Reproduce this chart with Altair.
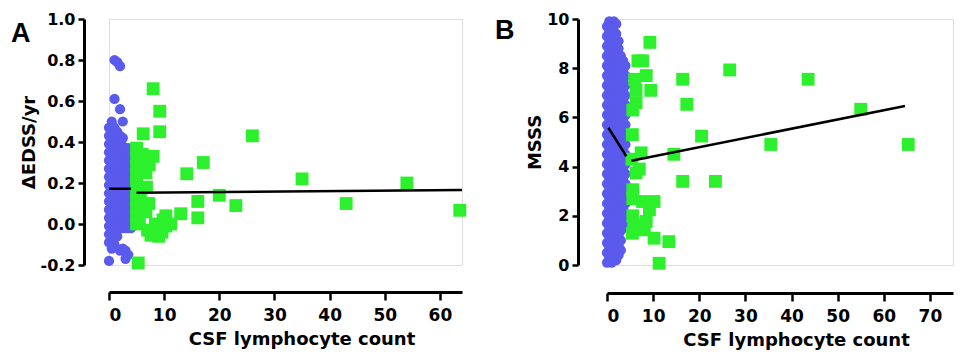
import altair as alt
import pandas as pd

# ---------------- Panel A data ----------------
a_blue_cols = {
    0.0: [-0.18, -0.09, -0.05, -0.01, 0.03, 0.07, 0.11, 0.15, 0.19, 0.23, 0.27, 0.31, 0.35, 0.39, 0.43, 0.47],
    0.5: [-0.12, -0.07, -0.03, 0.01, 0.05, 0.09, 0.13, 0.17, 0.21, 0.25, 0.29, 0.33, 0.37, 0.41, 0.45, 0.50],
    1.0: [-0.10, -0.05, -0.01, 0.03, 0.07, 0.11, 0.15, 0.19, 0.23, 0.27, 0.31, 0.35, 0.39, 0.43, 0.47, 0.61, 0.80],
    1.5: [-0.06, -0.03, 0.01, 0.05, 0.09, 0.13, 0.17, 0.21, 0.25, 0.29, 0.33, 0.37, 0.41, 0.45, 0.79],
    2.0: [-0.13, -0.02, 0.03, 0.07, 0.11, 0.15, 0.19, 0.23, 0.27, 0.31, 0.35, 0.39, 0.43, 0.56, 0.77],
    2.5: [-0.12, -0.02, 0.02, 0.06, 0.10, 0.14, 0.18, 0.22, 0.26, 0.30, 0.34, 0.38, 0.42, 0.50],
    3.0: [-0.17, -0.13, -0.02, 0.01, 0.05, 0.09, 0.13, 0.17, 0.21, 0.25, 0.29, 0.33, 0.37],
    3.5: [-0.15, -0.02, 0.02, 0.06, 0.10, 0.14, 0.18, 0.22, 0.26, 0.30, 0.34, 0.37],
    4.0: [-0.02, 0.01, 0.05, 0.09, 0.13, 0.17, 0.21, 0.25, 0.29, 0.33, 0.36],
    4.5: [0.00, 0.04, 0.08, 0.12, 0.16, 0.20, 0.24, 0.28, 0.32, 0.35],
}
a_green_x = [5.0, 5.0, 5.0, 5.0, 5.0, 5.0, 5.0, 5.0, 5.0, 5.0,
             5.3, 5.5, 5.7, 6.0, 6.2, 6.7, 6.7, 6.8, 7.3, 7.6,
             8.0, 8.0, 8.4, 9.0, 9.2, 9.2, 9.6, 10.3, 10.3, 11.2,
             13.0, 14.1, 16.1, 16.1, 17.1, 20.0, 23.0, 26.0, 35.0, 43.0,
             54.0, 63.6, 6.2, 7.2, 8.6, 9.8, 7.0, 6.0]
a_green_y = [0.00, 0.04, 0.08, 0.12, 0.16, 0.20, 0.24, 0.28, 0.32, 0.37,
             -0.19, 0.01, 0.12, 0.34, 0.44, 0.06, 0.25, 0.18, 0.29, -0.055,
             0.66, 0.33, 0.00, -0.06, 0.55, 0.45, -0.04, 0.04, -0.01, 0.00,
             0.05, 0.245, 0.11, 0.03, 0.30, 0.14, 0.09, 0.43, 0.22, 0.10,
             0.20, 0.067, 0.10, 0.10, -0.03, 0.02, -0.03, 0.28]
a_line_x = [0.0, 4.0, 5.0, 64.0]
a_line_y = [0.172, 0.172, 0.153, 0.166]
a_line_g = ["low", "low", "high", "high"]

# ---------------- Panel B data ----------------
b_blue_cols = {
    0.0: [0.1, 0.5, 0.9, 1.3, 1.7, 2.1, 2.5, 2.9, 3.3, 3.7, 4.1, 4.5, 4.9, 5.3, 5.7, 6.1, 6.5, 6.9, 7.3, 7.7, 8.1, 8.5, 8.9, 9.3, 9.7],
    0.5: [0.3, 0.7, 1.1, 1.5, 1.9, 2.3, 2.7, 3.1, 3.5, 3.9, 4.3, 4.7, 5.1, 5.5, 5.9, 6.3, 6.7, 7.1, 7.5, 7.9, 8.3, 8.7, 9.1, 9.5, 9.9],
    1.0: [0.1, 0.5, 0.9, 1.3, 1.7, 2.1, 2.5, 2.9, 3.3, 3.7, 4.1, 4.5, 4.9, 5.3, 5.7, 6.1, 6.5, 6.9, 7.3, 7.7, 8.1, 8.5, 8.9, 9.3, 9.7],
    1.5: [0.3, 0.7, 1.1, 1.5, 1.9, 2.3, 2.7, 3.1, 3.5, 3.9, 4.3, 4.7, 5.1, 5.5, 5.9, 6.3, 6.7, 7.1, 7.5, 7.9, 8.3, 8.7, 9.1, 9.5, 9.9],
    2.0: [0.2, 0.6, 1.0, 1.4, 1.8, 2.2, 2.6, 3.0, 3.4, 3.8, 4.2, 4.6, 5.0, 5.4, 5.8, 6.2, 6.6, 7.0, 7.4, 7.8, 8.2, 8.6, 9.0, 9.4, 9.8],
    2.5: [0.4, 0.8, 1.2, 1.6, 2.0, 2.4, 2.8, 3.2, 3.6, 4.0, 4.4, 4.8, 5.2, 5.6, 6.0, 6.4, 6.8, 7.2, 7.6, 8.0, 8.4, 8.8, 9.1],
    3.0: [0.6, 1.0, 1.4, 1.8, 2.2, 2.6, 3.0, 3.4, 3.8, 4.2, 4.6, 5.0, 5.4, 5.8, 6.2, 6.6, 7.0, 7.4, 7.8, 8.2, 8.5],
    3.5: [1.5, 1.9, 2.3, 2.7, 3.1, 3.5, 3.9, 4.3, 4.7, 5.1, 5.5, 5.9, 6.3, 6.7, 7.1, 7.5, 7.9, 8.3],
    4.0: [1.7, 2.1, 2.5, 2.9, 3.3, 3.7, 4.1, 4.5, 4.9, 5.3, 5.7, 6.1, 6.5, 6.9, 7.3, 7.7, 8.1],
}
b_green_x = [9.3, 6.7, 7.7, 8.5, 9.5, 6.0, 6.3, 6.3, 5.6, 16.4,
             26.6, 17.3, 43.6, 55.0, 20.5, 35.5, 65.3, 14.5, 7.4, 6.3,
             16.4, 23.5, 5.6, 7.7, 10.2, 9.2, 8.5, 8.1, 5.5, 10.2,
             13.4, 11.3, 5.6, 5.6, 5.4, 5.5, 7.0, 5.8]
b_green_y = [9.05, 8.3, 8.3, 7.7, 7.1, 7.55, 7.1, 6.6, 6.3, 7.55,
             7.93, 6.53, 7.55, 6.33, 5.24, 4.9, 4.9, 4.5, 4.56, 3.74,
             3.4, 3.4, 3.06, 2.58, 2.58, 2.24, 1.77, 1.43, 1.29, 1.09,
             0.95, 0.07, 2.7, 2.0, 4.3, 5.3, 3.9, 1.6]
b_line_x = [0.3, 4.2, 5.3, 64.6]
b_line_y = [5.58, 4.42, 4.24, 6.46]
b_line_g = ["low", "low", "high", "high"]

BLUE = "#5A5AEC"
GREEN = "#2CF02C"
FONT = "DejaVu Sans"


def cols_to_df(cols):
    xs, ys = [], []
    for x, yl in cols.items():
        for y in yl:
            xs.append(x)
            ys.append(y)
    return pd.DataFrame({"x": xs, "y": ys})


def panel(blue, gx, gy, lx, ly, lg, xdom, xvals, ydom, yvals, ytitle,
          letter, letter_x, letter_y, w, h, xoff, yoff, yfmt):
    xsc = alt.Scale(domain=xdom, nice=False, zero=False)
    ysc = alt.Scale(domain=ydom, nice=False, zero=False)
    xax = alt.Axis(values=xvals, title="CSF lymphocyte count", offset=xoff,
                   labelExpr="datum.value % 10 == 0 ? datum.label : ''",
                   tickSize={"condition": {"test": "datum.value % 10 === 0", "value": 8}, "value": 5},
                   labelPadding=7, titlePadding=7, labelFontSize=17,
                   titleX=w / 2 + 16)
    yax = alt.Axis(values=yvals, title=ytitle, offset=yoff, tickSize=6,
                   labelExpr="replace(format(datum.value, '" + yfmt + "'), '\u2212', '-')",
                   labelPadding=3, titlePadding=2, labelFontSize=16)
    base_x = alt.X("x:Q", scale=xsc, axis=xax)
    base_y = alt.Y("y:Q", scale=ysc, axis=yax)
    pts_b = alt.Chart(blue).mark_point(shape="circle", filled=True, opacity=1,
                                       size=105, color=BLUE, clip=False).encode(x=base_x, y=base_y)
    gdf = pd.DataFrame({"x": gx, "y": gy})
    pts_g = alt.Chart(gdf).mark_point(shape="square", filled=True, opacity=1,
                                      size=165, color=GREEN, clip=False).encode(x="x:Q", y="y:Q")
    ldf = pd.DataFrame({"x": lx, "y": ly, "g": lg})
    lines = alt.Chart(ldf).mark_line(color="black", strokeWidth=2.5).encode(
        x="x:Q", y="y:Q", detail="g:N")
    lab = alt.Chart(pd.DataFrame({"t": [letter]})).mark_text(
        font="Liberation Sans", fontWeight="bold", fontSize=27, align="left",
        baseline="alphabetic", color="black").encode(
        text="t:N", x=alt.value(letter_x), y=alt.value(letter_y))
    return alt.layer(pts_b, pts_g, lines, lab).properties(width=w, height=h)


chart_a = panel(cols_to_df(a_blue_cols), a_green_x, a_green_y, a_line_x, a_line_y, a_line_g,
                [0, 64], list(range(0, 65, 5)), [-0.2, 1.0],
                [-0.2, 0.0, 0.2, 0.4, 0.6, 0.8, 1.0], "ΔEDSS/yr",
                "A", -98, 23, 353, 246, 27, 25, ".1f")
chart_b = panel(cols_to_df(b_blue_cols), b_green_x, b_green_y, b_line_x, b_line_y, b_line_g,
                [0, 75], list(range(0, 76, 5)), [0, 10],
                [0, 2, 4, 6, 8, 10], "MSSS",
                "B", -112, 20, 346, 246, 28, 29, "d")

chart = alt.hconcat(chart_a, chart_b, spacing=26).properties(
    padding={"left": 2, "top": 2, "right": 0, "bottom": 0}
).configure_view(stroke=None).configure(background="white").configure_axis(
    domainColor="black", tickColor="black", labelColor="black",
    titleColor="black", labelFont=FONT, titleFont=FONT,
    labelFontWeight="bold", titleFontWeight="bold",
    titleFontSize=18, grid=False, domainWidth=3, tickWidth=2.5
)

chart.save("out.html", embed_options={"renderer": "svg", "actions": False})
